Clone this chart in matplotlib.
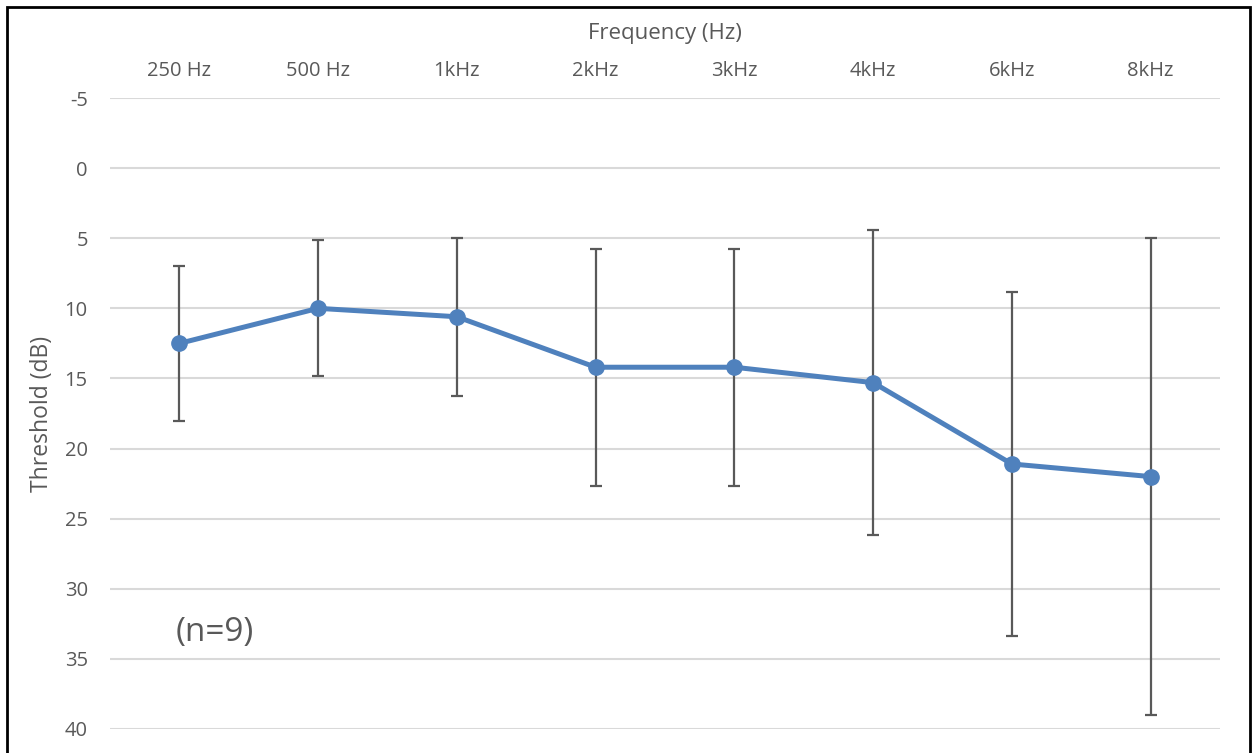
import matplotlib
matplotlib.use("Agg")
import matplotlib.pyplot as plt
from matplotlib.patches import Rectangle

# datos
frecuencias = ["250 Hz", "500 Hz", "1kHz", "2kHz", "3kHz", "4kHz", "6kHz", "8kHz"]
umbral = [12.5, 10.0, 10.6, 14.2, 14.2, 15.3, 21.1, 22.0]
error = [5.5, 4.85, 5.65, 8.45, 8.45, 10.9, 12.3, 17.0]
yticks = [-5, 0, 5, 10, 15, 20, 25, 30, 35, 40]

plt.rcParams['font.family'] = ['Open Sans', 'DejaVu Sans']
plt.rcParams['axes.unicode_minus'] = False
gris = "#595959"

W, H = 1252, 753
fig = plt.figure(figsize=(W / 100, H / 100), dpi=100)
ax = fig.add_axes([110 / W, 1 - 729 / H, 1110 / W, 631 / H])

x = list(range(len(frecuencias)))
ax.errorbar(x, umbral, yerr=error, color="#4F81BD", lw=3.6, marker="o", ms=11,
            ecolor=gris, elinewidth=1.6, capsize=4, capthick=1.6, zorder=3)

ax.set_xlim(-0.5, len(frecuencias) - 0.5)
ax.set_ylim(40, -5)
ax.set_yticks(yticks)
ax.set_xticks(x)
ax.set_xticklabels(frecuencias)
ax.xaxis.tick_top()
ax.xaxis.set_label_position("top")
ax.tick_params(axis="both", length=0, labelsize=14.5, colors=gris)
ax.tick_params(axis="x", pad=12)
ax.tick_params(axis="y", pad=16)
ax.grid(axis="y", color="#d9d9d9", lw=1.5)
ax.set_axisbelow(True)
for s in ax.spines.values():
    s.set_visible(False)

ax.set_xlabel("Frequency (Hz)", fontsize=16, color=gris, labelpad=16)
ax.set_ylabel("Threshold (dB)", fontsize=16.5, color=gris, labelpad=8)
ax.text(0.257, 33.1, "(n=9)", fontsize=24, color=gris, ha="center", va="center")

# marco del grafico
fig.patches.append(Rectangle((7 / W, -0.1), (1250 - 7) / W, 1.1 - 7 / H,
                             transform=fig.transFigure, fill=False,
                             edgecolor="black", lw=2))

fig.savefig("out.png", dpi=100)
